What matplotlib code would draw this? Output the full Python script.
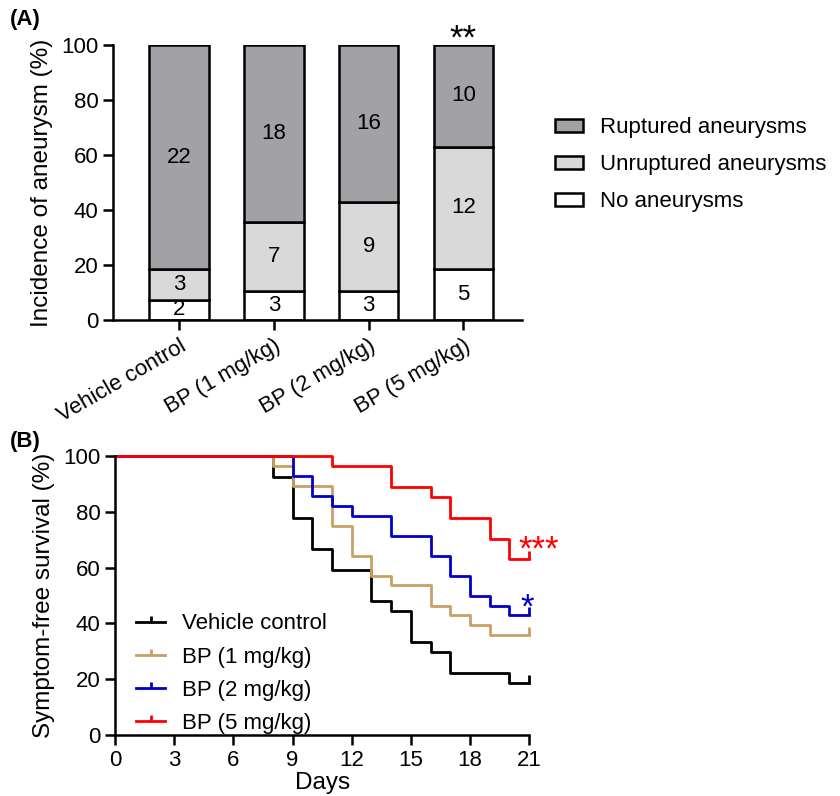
import matplotlib
matplotlib.use('Agg')
import matplotlib.pyplot as plt
import numpy as np
from matplotlib.path import Path
from matplotlib.patches import Patch
from matplotlib.lines import Line2D

matplotlib.rc('font', family=['Liberation Sans', 'DejaVu Sans'], size=15)
matplotlib.rc('axes', linewidth=1.8)
matplotlib.rc('xtick', direction='out')
matplotlib.rc('ytick', direction='out')

# panel A data (counts per group)
groups = ['Vehicle control', 'BP (1 mg/kg)', 'BP (2 mg/kg)', 'BP (5 mg/kg)']
n_none = [2, 3, 3, 5]
n_unruptured = [3, 7, 9, 12]
n_ruptured = [22, 18, 16, 10]

# panel B data (Kaplan-Meier steps, %)
days_vehicle = [0, 8, 9, 10, 11, 13, 14, 15, 16, 17, 20, 21]
surv_vehicle = [100, 92.6, 77.8, 66.7, 59.3, 48.1, 44.4, 33.3, 29.6, 22.2, 18.5, 18.5]
days_bp1 = [0, 8, 9, 11, 12, 13, 14, 16, 17, 18, 19, 21]
surv_bp1 = [100, 96.4, 89.3, 75.0, 64.3, 57.1, 53.6, 46.4, 42.9, 39.3, 35.7, 35.7]
days_bp2 = [0, 9, 10, 11, 12, 14, 16, 17, 18, 19, 20, 21]
surv_bp2 = [100, 92.9, 85.7, 82.1, 78.6, 71.4, 64.3, 57.1, 50.0, 46.4, 42.9, 42.9]
days_bp5 = [0, 11, 14, 16, 17, 19, 20, 21]
surv_bp5 = [100, 96.3, 88.9, 85.2, 77.8, 70.4, 63.0, 63.0]

col_rupt = '#a2a2a6'
col_unrupt = '#d9d9d9'
col_none = '#ffffff'
line_cols = ['#000000', '#c9a064', '#0000c8', '#ff0000']

tick_fs = 16
lab_fs = 17.5
leg_fs = 16

fig = plt.figure(figsize=(8.4, 7.96), dpi=100)

# ---- panel A ----
axA = fig.add_axes([0.1345, 0.598, 0.487, 0.3455])
tot = np.array(n_none) + np.array(n_unruptured) + np.array(n_ruptured)
p_none = 100.0 * np.array(n_none) / tot
p_unr = 100.0 * np.array(n_unruptured) / tot
p_rup = 100.0 * np.array(n_ruptured) / tot
x = np.arange(len(groups))
w = 0.63
kw = dict(width=w, edgecolor='k', linewidth=1.8)
axA.bar(x, p_none, color=col_none, **kw)
axA.bar(x, p_unr, bottom=p_none, color=col_unrupt, **kw)
axA.bar(x, p_rup, bottom=p_none + p_unr, color=col_rupt, **kw)
for i in range(len(groups)):
    axA.text(x[i], p_none[i] / 2, str(n_none[i]), ha='center', va='center', fontsize=16)
    axA.text(x[i], p_none[i] + p_unr[i] / 2, str(n_unruptured[i]), ha='center', va='center', fontsize=16)
    axA.text(x[i], p_none[i] + p_unr[i] + p_rup[i] / 2, str(n_ruptured[i]), ha='center', va='center', fontsize=16)
axA.text(x[3], 96, '**', ha='center', va='bottom', fontsize=25, clip_on=False)
axA.set_xlim(-0.7, 3.62)
axA.set_ylim(0, 100)
axA.set_yticks([0, 20, 40, 60, 80, 100])
axA.set_xticks(x)
axA.set_xticklabels(groups, rotation=30, ha='right', rotation_mode='anchor')
axA.tick_params(axis='both', width=1.8, length=7, labelsize=tick_fs)
axA.tick_params(axis='x', pad=4)
for s in ['top', 'right']:
    axA.spines[s].set_visible(False)
axA.set_ylabel('Incidence of aneurysm (%)', fontsize=lab_fs, labelpad=6)
handles = [Patch(facecolor=col_rupt, edgecolor='k', linewidth=1.8),
           Patch(facecolor=col_unrupt, edgecolor='k', linewidth=1.8),
           Patch(facecolor=col_none, edgecolor='k', linewidth=1.8)]
fig.legend(handles, ['Ruptured aneurysms', 'Unruptured aneurysms', 'No aneurysms'],
           loc='upper left', bbox_to_anchor=(0.65, 0.864), frameon=False,
           fontsize=leg_fs, handlelength=1.25, handleheight=0.55, handletextpad=0.8,
           labelspacing=0.72, borderaxespad=0)
fig.text(0.012, 0.975, '(A)', fontsize=16, fontweight='bold', va='center')

# ---- panel B ----
axB = fig.add_axes([0.137, 0.0766, 0.493, 0.3505])
censor = Path([(0, 0), (0, 1)], [Path.MOVETO, Path.LINETO])
series = [(days_vehicle, surv_vehicle, 'Vehicle control'),
          (days_bp1, surv_bp1, 'BP (1 mg/kg)'),
          (days_bp2, surv_bp2, 'BP (2 mg/kg)'),
          (days_bp5, surv_bp5, 'BP (5 mg/kg)')]
for (d, s, lab), c in zip(series, line_cols):
    axB.step(d, s, where='post', color=c, linewidth=2.0, clip_on=False)
    axB.plot(d[-1], s[-1], marker=censor, markersize=11, markeredgewidth=2.0,
             color=c, clip_on=False)
axB.set_xlim(0, 21)
axB.set_ylim(0, 100)
axB.set_xticks(np.arange(0, 22, 3))
axB.set_yticks([0, 20, 40, 60, 80, 100])
axB.tick_params(axis='both', width=1.8, length=7, labelsize=tick_fs)
for s in ['top', 'right']:
    axB.spines[s].set_visible(False)
axB.set_xlabel('Days', fontsize=lab_fs, labelpad=1)
axB.set_ylabel('Symptom-free survival (%)', fontsize=lab_fs, labelpad=6)
axB.text(20.45, 60.5, '***', color='#ff0000', fontsize=25, ha='left', va='bottom')
axB.text(20.55, 39.5, '*', color='#0000c8', fontsize=25, ha='left', va='bottom')
leg_handles = [Line2D([0], [0], color=c, linewidth=2.0, marker=censor, markersize=8,
                      markeredgewidth=2.0) for c in line_cols]
axB.legend(leg_handles, [lab for _, _, lab in series], loc='lower left',
           bbox_to_anchor=(0.03, -0.028), frameon=False, fontsize=leg_fs,
           handlelength=1.3, handletextpad=0.75, labelspacing=0.55, borderaxespad=0)
fig.text(0.012, 0.445, '(B)', fontsize=16, fontweight='bold', va='center')

fig.savefig('out.png', dpi=100)
